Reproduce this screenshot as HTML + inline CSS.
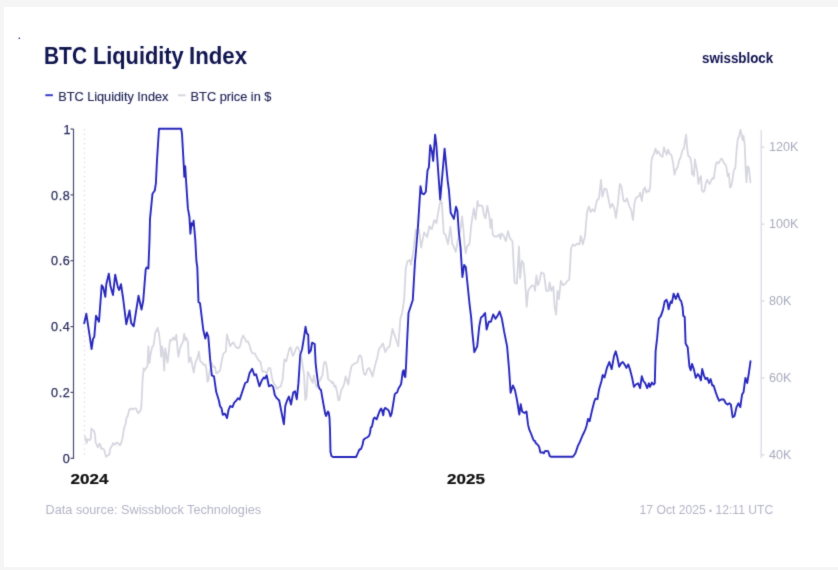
<!DOCTYPE html>
<html><head><meta charset="utf-8"><title>BTC Liquidity Index</title>
<style>
html,body{margin:0;padding:0;}
body{width:838px;height:570px;background:#f5f5f5;position:relative;overflow:hidden;font-family:"Liberation Sans",Arial,sans-serif;}
.card{position:absolute;left:4px;top:7px;width:834px;height:560px;background:#fff;}
svg{position:absolute;left:0;top:0;}
.yl{font-size:12.6px;fill:#2a2c5c;stroke:#2a2c5c;stroke-width:0.25px;text-anchor:end;letter-spacing:0.6px;}
.yr{font-size:12.6px;fill:#a9abbd;}
</style></head>
<body>
<div class="card"></div>
<svg width="838" height="570" viewBox="0 0 838 570">
<defs><filter id="sb" x="-5%" y="-5%" width="110%" height="110%"><feConvolveMatrix order="3" kernelMatrix="0.02 0.08 0.02 0.08 0.60 0.08 0.02 0.08 0.02" divisor="1" edgeMode="duplicate" preserveAlpha="false"/></filter></defs>
<g filter="url(#sb)">
<circle cx="19.3" cy="38.3" r="0.8" fill="#11124f"/>
<g font-size="23" font-weight="bold" fill="#11124f">
<text x="44.0" y="64.0" textLength="43" lengthAdjust="spacingAndGlyphs">BTC</text>
<text x="92.9" y="64.0" textLength="90.8" lengthAdjust="spacingAndGlyphs">Liquidity</text>
<text x="189.0" y="64.0" textLength="58.1" lengthAdjust="spacingAndGlyphs">Index</text>
</g>
<text x="702" y="63.0" font-size="13.8" font-weight="bold" fill="#11124f" textLength="71.2" lengthAdjust="spacingAndGlyphs">swissblock</text>
<line x1="45.3" y1="95.2" x2="52.9" y2="95.2" stroke="#3b3bcc" stroke-width="2"/>
<text x="58.2" y="100.9" font-size="12.5" fill="#25275a" stroke="#25275a" stroke-width="0.15" textLength="110.2" lengthAdjust="spacingAndGlyphs">BTC Liquidity Index</text>
<line x1="178" y1="95.3" x2="185.5" y2="95.3" stroke="#d6d6e0" stroke-width="2"/>
<text x="190.6" y="100.9" font-size="12.5" fill="#25275a" stroke="#25275a" stroke-width="0.15" textLength="80.8" lengthAdjust="spacingAndGlyphs">BTC price in $</text>
<line x1="84.5" y1="129" x2="84.5" y2="458.3" stroke="#d8d8de" stroke-width="1.2" stroke-dasharray="1.2 3.5"/>
<g stroke="#4a4d72" stroke-width="1.2" fill="none">
<line x1="73.5" y1="129" x2="73.5" y2="458.9"/>
<line x1="70.5" y1="458.3" x2="73.5" y2="458.3"/><line x1="70.5" y1="392.4" x2="73.5" y2="392.4"/><line x1="70.5" y1="326.6" x2="73.5" y2="326.6"/><line x1="70.5" y1="260.7" x2="73.5" y2="260.7"/><line x1="70.5" y1="194.9" x2="73.5" y2="194.9"/><line x1="70.5" y1="129.0" x2="73.5" y2="129.0"/>
</g>
<text class="yl" x="70.4" y="463.0">0</text><text class="yl" x="70.4" y="397.1">0.2</text><text class="yl" x="70.4" y="331.3">0.4</text><text class="yl" x="70.4" y="265.4">0.6</text><text class="yl" x="70.4" y="199.6">0.8</text><text class="yl" x="71.0" y="133.7">1</text>
<line x1="64.8" y1="133.4" x2="70.0" y2="133.4" stroke="#2a2c5c" stroke-width="1.1"/>
<g stroke="#d6d6e2" stroke-width="1.2" fill="none">
<line x1="761.2" y1="130" x2="761.2" y2="458"/>
<line x1="761" y1="454.9" x2="764.5" y2="454.9"/><line x1="761" y1="378.0" x2="764.5" y2="378.0"/><line x1="761" y1="301.0" x2="764.5" y2="301.0"/><line x1="761" y1="224.1" x2="764.5" y2="224.1"/><line x1="761" y1="147.2" x2="764.5" y2="147.2"/>
</g>
<text class="yr" x="769" y="458.8">40K</text><text class="yr" x="769" y="381.9">60K</text><text class="yr" x="769" y="304.9">80K</text><text class="yr" x="769" y="228.0">100K</text><text class="yr" x="769" y="151.1">120K</text>
<polyline points="85.1,436.3 85.8,439.0 86.6,443.2 87.7,439.5 89.8,440.0 90.8,438.5 91.4,428.4 92.4,430.0 94.0,430.5 95.0,434.7 95.6,442.1 97.2,446.3 98.2,447.3 99.3,443.7 100.3,444.2 101.4,449.0 102.4,448.5 104.0,449.5 105.0,453.2 106.1,456.8 107.7,455.3 109.3,454.7 110.3,448.4 111.9,446.3 112.9,443.2 114.0,444.2 115.1,444.7 116.6,442.6 118.2,443.2 119.8,445.3 120.8,444.2 122.4,439.0 123.5,431.6 124.5,426.3 125.6,424.2 126.6,417.4 127.7,416.3 129.3,409.5 130.8,408.4 132.4,409.5 134.5,408.4 136.0,408.4 137.2,411.6 138.5,413.2 139.8,411.6 140.8,409.5 141.4,405.3 142.6,380.0 143.7,368.4 144.7,370.5 145.8,368.4 147.4,366.3 148.4,346.3 149.5,363.2 150.5,354.7 152.1,347.4 153.7,344.7 155.3,332.6 156.3,330.5 157.7,327.9 158.9,333.7 160.5,346.3 161.1,356.8 162.1,346.3 163.2,353.0 164.2,370.5 165.3,348.4 166.3,354.7 167.6,362.6 168.4,355.8 170.0,340.0 171.6,340.5 173.2,337.4 174.7,340.0 176.3,334.7 177.4,347.4 178.4,356.8 180.0,348.4 181.6,344.7 183.2,341.1 184.2,333.7 185.3,340.0 186.3,337.9 187.9,342.1 188.9,362.1 190.5,357.4 192.1,364.2 193.7,372.6 195.3,363.2 197.4,357.9 198.9,351.6 200.1,360.8 202.2,362.9 203.8,365.0 205.4,364.5 206.4,369.2 207.5,381.8 208.5,380.0 209.6,372.0 211.7,362.9 213.3,367.1 214.8,366.6 216.4,373.4 218.0,372.4 220.1,370.3 221.7,360.8 223.3,353.9 224.8,352.4 225.9,351.3 226.9,334.5 228.5,339.7 230.1,346.1 231.7,343.9 233.3,342.4 234.8,345.0 236.4,347.6 238.5,348.2 240.1,346.1 241.7,338.7 243.3,335.5 244.8,338.7 246.4,341.8 248.0,341.3 249.6,345.5 251.2,351.3 252.7,353.4 254.8,353.4 256.4,356.6 258.0,359.7 260.5,362.0 262.4,371.8 263.6,371.2 265.4,371.8 266.8,373.5 268.5,368.1 270.3,368.1 272.2,379.2 274.0,384.1 275.9,386.5 277.1,389.0 278.9,387.1 280.8,386.5 282.6,379.2 284.4,359.5 286.3,361.4 287.5,355.9 289.4,348.5 290.6,347.3 291.8,352.2 293.0,355.9 294.3,353.4 295.5,349.7 297.3,346.7 298.6,348.5 299.8,352.2 301.6,358.3 302.9,366.9 304.1,375.5 305.3,400.0 306.5,397.6 307.8,371.8 309.6,375.5 311.4,380.4 312.7,382.9 313.9,375.5 315.0,381.6 316.8,387.4 318.2,383.0 319.6,381.0 321.0,378.0 322.4,375.3 323.6,365.1 324.7,361.7 325.8,362.2 327.0,368.5 328.1,378.8 329.3,380.5 331.0,381.0 332.1,383.3 333.2,382.2 334.4,386.8 335.5,385.6 337.2,392.5 338.4,400.4 339.5,399.9 341.2,390.2 342.9,387.3 344.4,383.3 345.6,376.5 346.9,379.9 348.3,384.5 349.8,374.2 351.5,366.2 353.2,364.5 354.9,363.4 356.6,362.8 357.8,361.7 358.9,356.0 360.4,355.4 361.7,358.2 362.9,368.5 364.0,374.2 365.7,374.8 367.5,369.1 369.2,367.9 370.9,371.9 372.6,376.5 375.1,365.2 377.2,358.0 378.9,349.3 380.9,346.4 383.0,343.5 385.3,352.2 387.6,347.8 389.6,346.4 392.5,329.0 395.4,337.7 398.3,346.4 400.4,318.8 402.1,313.0 404.1,300.0 405.7,269.2 407.3,261.5 409.7,260.0 411.0,264.6 413.4,250.8 415.9,229.3 417.1,233.9 418.9,229.3 421.1,247.7 424.1,232.4 427.2,237.0 429.4,226.2 431.8,229.3 434.3,220.1 436.4,223.2 439.5,204.8 440.8,200.5 441.8,202.3 443.7,233.0 445.5,234.8 448.0,244.0 450.4,226.9 452.3,244.0 453.8,246.5 455.7,252.0 458.0,240.0 460.3,230.5 462.1,216.4 463.3,228.0 464.6,245.3 465.8,253.3 467.0,246.5 469.5,244.0 471.3,224.4 473.8,208.4 475.6,219.5 477.5,201.0 478.7,206.0 480.5,205.4 482.4,206.0 484.2,215.8 485.5,218.3 487.3,206.0 489.4,216.9 490.5,227.9 491.6,219.1 492.7,234.5 494.9,236.7 497.0,236.5 499.3,234.5 500.4,238.9 501.4,233.4 503.5,235.5 505.8,241.1 508.0,231.2 510.2,238.9 512.4,241.1 514.6,282.7 516.8,283.8 519.0,246.5 520.1,278.3 521.8,260.8 523.4,263.0 524.9,278.3 526.7,306.8 528.2,290.5 530.0,287.9 532.1,285.3 534.2,286.6 535.0,290.8 536.4,275.3 537.8,285.2 539.2,282.4 541.2,272.5 544.0,273.9 546.2,290.8 548.5,290.8 549.6,282.4 551.3,290.8 553.3,286.6 554.7,307.6 556.1,314.7 557.5,290.8 558.9,299.2 560.8,281.0 563.1,285.2 565.3,283.8 567.3,281.0 569.3,279.6 571.0,248.7 572.9,244.4 574.9,245.8 577.1,243.6 579.4,244.4 580.8,236.0 582.8,244.4 585.0,236.0 587.0,212.1 588.9,206.5 590.6,212.1 592.6,209.3 594.6,211.6 596.8,200.9 599.0,198.1 601.0,179.8 602.4,196.7 604.7,188.3 606.6,189.7 608.6,199.5 610.3,207.9 612.2,203.7 614.2,207.9 615.9,217.8 617.9,203.7 619.8,184.0 621.5,186.9 623.5,200.9 625.2,201.5 626.9,198.5 629.3,206.0 631.3,210.5 633.0,220.0 634.5,203.2 635.9,197.9 637.6,196.8 639.3,195.8 640.2,192.6 641.8,201.0 643.5,189.5 645.0,187.4 646.1,192.6 647.7,190.5 649.2,191.6 650.3,185.3 651.3,162.1 652.4,156.8 654.1,153.7 655.5,148.4 657.0,153.7 658.3,151.2 659.7,153.7 661.2,156.2 662.5,156.8 663.9,147.4 665.4,151.6 666.7,154.7 668.2,149.5 669.6,153.7 671.3,154.7 673.0,162.1 674.5,174.7 675.9,169.5 677.6,167.4 679.3,160.0 680.8,156.8 682.3,150.5 683.9,148.4 685.0,141.1 686.1,134.7 687.1,147.4 688.2,155.8 690.2,157.5 691.4,163.9 692.1,174.4 693.2,171.8 693.9,176.1 694.9,159.5 696.1,165.6 697.4,172.6 698.4,184.0 699.6,178.8 700.9,176.1 701.9,190.2 703.2,191.9 704.4,191.1 705.8,183.2 707.2,179.6 708.4,182.3 709.6,184.0 711.1,180.5 712.5,177.9 713.7,178.8 714.6,172.6 716.0,163.5 717.2,162.1 718.4,163.5 719.8,161.2 721.2,158.6 722.5,159.5 723.7,163.0 725.1,163.9 726.5,167.4 727.7,176.1 728.9,173.5 730.0,187.5 731.2,186.7 732.5,179.6 733.9,170.0 735.3,168.2 736.5,151.6 737.7,139.3 739.1,136.7 740.5,129.6 741.8,135.8 742.6,140.2 743.5,135.8 744.7,144.6 745.8,172.6 746.5,182.3 747.5,166.5 748.8,167.4 750.5,182.3" fill="none" stroke="#d6d6e0" stroke-width="1.8" stroke-linejoin="round" stroke-linecap="round"/>
<polyline points="84.2,323.2 86.3,313.7 89.5,334.7 91.6,349.0 93.0,339.0 94.3,336.8 96.0,315.8 99.0,321.7 101.7,285.3 103.2,287.4 105.3,296.8 106.3,284.2 108.8,273.7 110.5,286.3 113.0,295.0 115.2,274.7 117.9,287.4 119.2,290.0 121.0,284.2 123.2,299.0 126.3,324.2 129.5,310.5 131.2,323.2 133.7,326.3 138.5,295.8 141.5,309.5 143.2,301.0 145.7,269.5 146.7,267.4 148.4,268.4 149.5,240.0 150.0,219.0 152.5,193.7 154.8,190.5 155.9,183.2 157.0,160.0 159.0,128.8 181.2,128.8 182.0,134.0 183.7,164.2 184.3,176.8 185.2,166.3 185.8,176.8 187.9,208.4 189.4,216.8 190.4,233.7 191.5,223.2 192.7,225.3 193.6,220.6 195.3,240.0 196.4,261.0 197.3,267.4 198.5,302.0 200.0,303.2 203.3,330.0 205.3,338.5 206.8,332.5 208.3,336.5 210.1,358.9 211.8,375.3 214.0,376.4 216.2,391.8 218.9,400.5 220.0,406.0 221.5,408.2 222.8,414.8 225.0,413.7 227.0,418.1 228.7,409.3 230.3,406.0 232.5,407.1 234.2,402.7 236.4,400.5 237.9,398.3 239.7,399.4 241.9,392.9 245.2,383.0 247.4,381.9 249.6,373.1 252.2,368.7 254.4,375.3 256.1,374.2 259.4,386.3 261.6,380.8 263.8,377.5 264.9,378.6 266.7,375.3 268.9,386.3 271.5,385.0 273.2,387.0 274.8,395.0 276.6,397.9 279.2,400.5 281.8,413.7 283.9,424.2 285.3,405.8 287.1,400.5 288.9,396.6 291.0,404.5 293.2,392.6 295.0,391.3 296.8,399.2 298.4,383.4 300.3,354.5 302.1,349.2 304.2,336.1 305.5,326.8 306.8,333.4 308.2,334.7 308.9,353.2 310.8,350.5 312.1,342.6 314.7,344.0 315.6,362.8 316.7,373.1 318.4,385.6 319.6,389.0 320.9,389.6 323.6,405.0 325.3,414.0 326.2,416.0 327.2,413.0 328.0,411.5 328.8,413.0 329.5,418.0 330.0,430.0 330.5,452.0 331.5,456.0 333.0,457.0 356.0,457.0 357.0,455.0 358.5,451.5 359.5,449.5 361.0,449.0 362.5,445.0 363.5,440.0 365.0,438.5 367.0,437.5 369.0,436.0 370.0,433.0 370.8,427.5 372.0,426.5 373.5,419.0 374.5,417.5 376.6,419.3 378.3,414.7 380.0,410.2 381.1,408.5 382.2,411.0 383.2,415.3 384.0,410.0 385.1,407.9 386.8,409.0 388.5,410.2 389.7,413.5 390.5,416.4 391.6,413.6 393.1,404.5 394.8,394.2 395.9,393.1 397.1,392.5 398.5,388.5 399.9,386.2 401.1,384.0 401.9,378.2 402.8,371.4 403.7,370.3 404.5,376.0 405.3,377.1 406.0,366.8 407.0,343.5 408.5,313.0 411.4,304.3 412.8,300.0 414.9,263.0 418.0,226.2 420.5,186.3 421.9,193.4 424.0,194.3 425.8,191.7 427.5,170.6 428.9,167.1 430.2,145.2 431.9,151.3 433.2,161.0 435.1,134.6 436.3,144.3 440.2,199.6 444.6,148.7 446.5,168.9 447.7,181.1 448.9,190.0 450.7,212.7 452.1,215.4 453.9,218.9 456.0,206.6 457.4,211.0 458.9,232.6 460.5,247.1 462.4,277.0 464.2,265.0 465.8,267.0 467.4,283.0 469.5,303.7 471.1,316.8 472.3,331.9 474.3,352.2 477.2,346.4 479.3,326.1 481.0,317.4 483.0,315.9 485.1,313.0 486.6,329.5 488.8,321.7 490.9,321.7 493.2,314.5 495.5,318.8 497.5,315.9 499.6,311.6 501.9,318.8 504.2,331.9 507.1,346.4 509.1,369.6 510.6,392.8 512.9,385.5 514.9,389.9 517.0,400.0 519.3,414.5 520.7,404.3 522.2,411.6 524.5,413.0 526.5,411.6 528.0,424.4 529.1,429.1 531.2,434.0 533.0,438.9 534.0,440.7 535.1,441.1 535.8,443.2 536.8,443.9 538.2,445.3 539.3,447.4 540.0,450.9 540.6,452.6 541.4,452.6 542.5,452.3 543.9,453.3 544.9,451.2 546.0,450.9 548.1,451.2 548.8,453.0 549.8,456.1 550.9,456.8 573.0,456.8 575.4,453.2 577.8,446.1 580.1,441.4 582.5,435.5 584.9,430.7 586.5,426.0 588.0,418.9 589.6,421.2 592.0,410.6 594.4,401.1 595.5,398.7 597.4,399.2 599.1,389.2 601.5,381.0 602.7,375.0 604.5,377.4 606.9,367.9 609.3,362.0 611.7,369.1 614.0,356.1 615.7,351.3 617.3,357.3 619.2,366.7 621.1,363.2 622.8,362.0 624.5,364.4 626.4,367.9 628.2,364.4 629.9,369.1 632.3,378.6 633.9,386.9 635.8,384.5 638.2,383.3 640.1,388.1 641.8,376.2 643.4,381.0 645.3,383.3 647.2,388.1 648.9,383.3 650.0,386.9 651.9,382.6 653.6,384.5 654.8,383.3 655.6,351.2 657.1,338.4 658.9,318.5 660.8,316.1 662.9,310.1 664.7,301.5 666.5,299.7 667.6,302.9 668.6,309.3 670.1,303.6 670.8,301.5 671.9,302.9 673.6,293.6 675.8,299.0 677.9,293.6 679.7,299.3 681.2,301.1 682.6,307.2 683.3,315.8 684.7,316.9 685.6,343.5 687.7,347.3 689.4,366.4 690.7,370.2 692.0,363.9 693.8,369.0 695.8,377.9 697.8,374.1 699.6,376.6 700.9,380.4 702.2,369.0 703.9,375.3 705.5,379.1 707.3,377.9 709.0,383.0 710.6,379.1 712.3,385.5 713.6,385.5 715.6,391.9 717.4,397.0 719.2,400.8 721.2,399.5 723.8,399.5 725.8,403.3 727.6,404.6 729.4,403.3 730.9,404.6 732.7,417.3 734.5,416.0 736.5,407.1 738.5,403.3 740.3,407.1 742.1,394.4 743.6,391.9 745.4,377.9 747.2,383.0 748.7,374.1 750.5,361.3" fill="none" stroke="#2828bc" stroke-width="1.9" stroke-linejoin="round" stroke-linecap="round"/>
<text transform="translate(70.6 483.8) scale(1.11 1)" font-size="15.3" font-weight="bold" fill="#0a0a0a" stroke="#0a0a0a" stroke-width="0.2">2024</text>
<text transform="translate(447.1 483.8) scale(1.11 1)" font-size="15.3" font-weight="bold" fill="#0a0a0a" stroke="#0a0a0a" stroke-width="0.2">2025</text>
<text x="45.6" y="514" font-size="12.8" fill="#b3b4c6" textLength="215.5" lengthAdjust="spacingAndGlyphs">Data source: Swissblock Technologies</text>
<text x="639.6" y="514.2" font-size="12.9" fill="#b3b4c6" textLength="133.6" lengthAdjust="spacingAndGlyphs">17 Oct 2025 <tspan font-size="9" dy="-0.5">•</tspan><tspan dy="0.5"> 12:11 UTC</tspan></text>
</g>
</svg>
</body></html>
